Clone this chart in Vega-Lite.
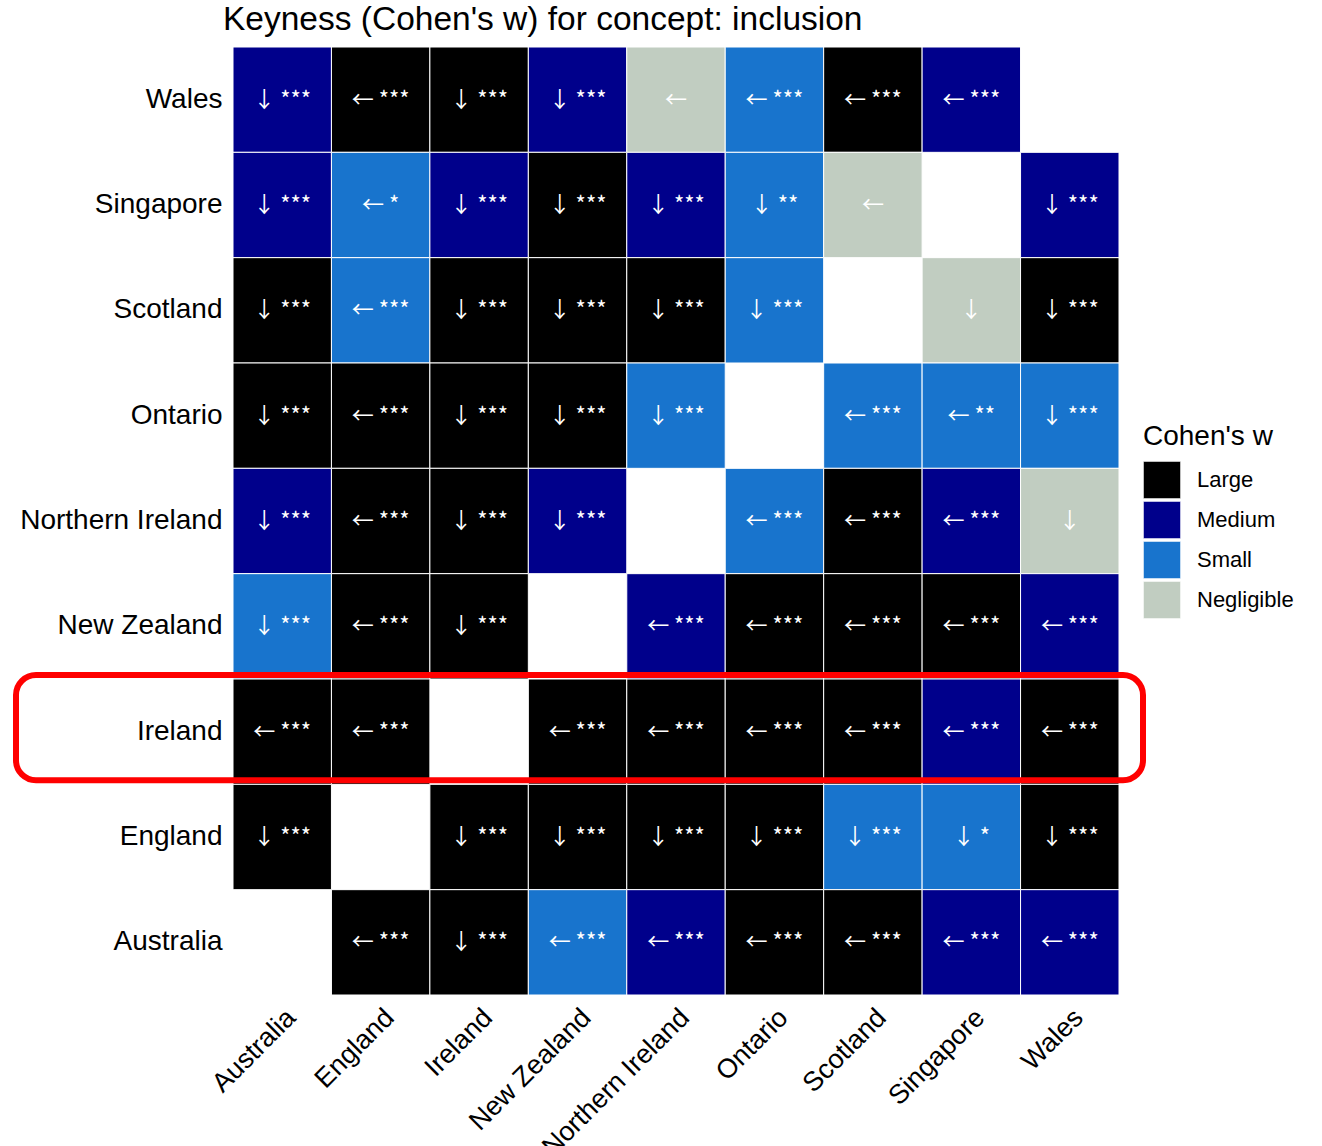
{
  "$schema": "https://vega.github.io/schema/vega-lite/v6.json",
  "width": 886,
  "height": 948,
  "autosize": {"type": "none"},
  "padding": {"left": 233, "top": 47, "right": 203, "bottom": 151},
  "background": "white",
  "title": {"text": "Keyness (Cohen's w) for concept: inclusion", "anchor": "start", "frame": "group", "dx": -10, "offset": 9, "fontSize": 33.5, "font": "Liberation Sans", "fontWeight": "normal", "color": "black"},
  "config": {"view": {"stroke": null}, "font": "Liberation Sans"},
  "datasets": {
    "cells": [
      {"row": "Wales", "col": "Australia", "size": "Medium", "label": "↓ ***"},
      {"row": "Wales", "col": "England", "size": "Large", "label": "← ***"},
      {"row": "Wales", "col": "Ireland", "size": "Large", "label": "↓ ***"},
      {"row": "Wales", "col": "New Zealand", "size": "Medium", "label": "↓ ***"},
      {"row": "Wales", "col": "Northern Ireland", "size": "Negligible", "label": "←"},
      {"row": "Wales", "col": "Ontario", "size": "Small", "label": "← ***"},
      {"row": "Wales", "col": "Scotland", "size": "Large", "label": "← ***"},
      {"row": "Wales", "col": "Singapore", "size": "Medium", "label": "← ***"},
      {"row": "Singapore", "col": "Australia", "size": "Medium", "label": "↓ ***"},
      {"row": "Singapore", "col": "England", "size": "Small", "label": "← *"},
      {"row": "Singapore", "col": "Ireland", "size": "Medium", "label": "↓ ***"},
      {"row": "Singapore", "col": "New Zealand", "size": "Large", "label": "↓ ***"},
      {"row": "Singapore", "col": "Northern Ireland", "size": "Medium", "label": "↓ ***"},
      {"row": "Singapore", "col": "Ontario", "size": "Small", "label": "↓ **"},
      {"row": "Singapore", "col": "Scotland", "size": "Negligible", "label": "←"},
      {"row": "Singapore", "col": "Wales", "size": "Medium", "label": "↓ ***"},
      {"row": "Scotland", "col": "Australia", "size": "Large", "label": "↓ ***"},
      {"row": "Scotland", "col": "England", "size": "Small", "label": "← ***"},
      {"row": "Scotland", "col": "Ireland", "size": "Large", "label": "↓ ***"},
      {"row": "Scotland", "col": "New Zealand", "size": "Large", "label": "↓ ***"},
      {"row": "Scotland", "col": "Northern Ireland", "size": "Large", "label": "↓ ***"},
      {"row": "Scotland", "col": "Ontario", "size": "Small", "label": "↓ ***"},
      {"row": "Scotland", "col": "Singapore", "size": "Negligible", "label": "↓"},
      {"row": "Scotland", "col": "Wales", "size": "Large", "label": "↓ ***"},
      {"row": "Ontario", "col": "Australia", "size": "Large", "label": "↓ ***"},
      {"row": "Ontario", "col": "England", "size": "Large", "label": "← ***"},
      {"row": "Ontario", "col": "Ireland", "size": "Large", "label": "↓ ***"},
      {"row": "Ontario", "col": "New Zealand", "size": "Large", "label": "↓ ***"},
      {"row": "Ontario", "col": "Northern Ireland", "size": "Small", "label": "↓ ***"},
      {"row": "Ontario", "col": "Scotland", "size": "Small", "label": "← ***"},
      {"row": "Ontario", "col": "Singapore", "size": "Small", "label": "← **"},
      {"row": "Ontario", "col": "Wales", "size": "Small", "label": "↓ ***"},
      {"row": "Northern Ireland", "col": "Australia", "size": "Medium", "label": "↓ ***"},
      {"row": "Northern Ireland", "col": "England", "size": "Large", "label": "← ***"},
      {"row": "Northern Ireland", "col": "Ireland", "size": "Large", "label": "↓ ***"},
      {"row": "Northern Ireland", "col": "New Zealand", "size": "Medium", "label": "↓ ***"},
      {"row": "Northern Ireland", "col": "Ontario", "size": "Small", "label": "← ***"},
      {"row": "Northern Ireland", "col": "Scotland", "size": "Large", "label": "← ***"},
      {"row": "Northern Ireland", "col": "Singapore", "size": "Medium", "label": "← ***"},
      {"row": "Northern Ireland", "col": "Wales", "size": "Negligible", "label": "↓"},
      {"row": "New Zealand", "col": "Australia", "size": "Small", "label": "↓ ***"},
      {"row": "New Zealand", "col": "England", "size": "Large", "label": "← ***"},
      {"row": "New Zealand", "col": "Ireland", "size": "Large", "label": "↓ ***"},
      {"row": "New Zealand", "col": "Northern Ireland", "size": "Medium", "label": "← ***"},
      {"row": "New Zealand", "col": "Ontario", "size": "Large", "label": "← ***"},
      {"row": "New Zealand", "col": "Scotland", "size": "Large", "label": "← ***"},
      {"row": "New Zealand", "col": "Singapore", "size": "Large", "label": "← ***"},
      {"row": "New Zealand", "col": "Wales", "size": "Medium", "label": "← ***"},
      {"row": "Ireland", "col": "Australia", "size": "Large", "label": "← ***"},
      {"row": "Ireland", "col": "England", "size": "Large", "label": "← ***"},
      {"row": "Ireland", "col": "New Zealand", "size": "Large", "label": "← ***"},
      {"row": "Ireland", "col": "Northern Ireland", "size": "Large", "label": "← ***"},
      {"row": "Ireland", "col": "Ontario", "size": "Large", "label": "← ***"},
      {"row": "Ireland", "col": "Scotland", "size": "Large", "label": "← ***"},
      {"row": "Ireland", "col": "Singapore", "size": "Medium", "label": "← ***"},
      {"row": "Ireland", "col": "Wales", "size": "Large", "label": "← ***"},
      {"row": "England", "col": "Australia", "size": "Large", "label": "↓ ***"},
      {"row": "England", "col": "Ireland", "size": "Large", "label": "↓ ***"},
      {"row": "England", "col": "New Zealand", "size": "Large", "label": "↓ ***"},
      {"row": "England", "col": "Northern Ireland", "size": "Large", "label": "↓ ***"},
      {"row": "England", "col": "Ontario", "size": "Large", "label": "↓ ***"},
      {"row": "England", "col": "Scotland", "size": "Small", "label": "↓ ***"},
      {"row": "England", "col": "Singapore", "size": "Small", "label": "↓ *"},
      {"row": "England", "col": "Wales", "size": "Large", "label": "↓ ***"},
      {"row": "Australia", "col": "England", "size": "Large", "label": "← ***"},
      {"row": "Australia", "col": "Ireland", "size": "Large", "label": "↓ ***"},
      {"row": "Australia", "col": "New Zealand", "size": "Small", "label": "← ***"},
      {"row": "Australia", "col": "Northern Ireland", "size": "Medium", "label": "← ***"},
      {"row": "Australia", "col": "Ontario", "size": "Large", "label": "← ***"},
      {"row": "Australia", "col": "Scotland", "size": "Large", "label": "← ***"},
      {"row": "Australia", "col": "Singapore", "size": "Medium", "label": "← ***"},
      {"row": "Australia", "col": "Wales", "size": "Medium", "label": "← ***"}
    ],
    "highlight": [{"row": "Ireland"}]
  },
  "layer": [
    {
      "data": {"name": "cells"},
      "mark": {"type": "rect", "stroke": "white", "strokeWidth": 1},
      "encoding": {
        "x": {"field": "col", "type": "nominal",
              "scale": {"domain": ["Australia", "England", "Ireland", "New Zealand", "Northern Ireland", "Ontario", "Scotland", "Singapore", "Wales"], "paddingInner": 0, "paddingOuter": 0},
              "axis": {"title": null, "labelAngle": -45, "labelAlign": "right", "labelBaseline": "top", "labelFontSize": 27, "labelColor": "black", "ticks": false, "domain": false, "labelPadding": 9, "labelFont": "Liberation Sans", "labelLimit": 400}},
        "y": {"field": "row", "type": "nominal",
              "scale": {"domain": ["Wales", "Singapore", "Scotland", "Ontario", "Northern Ireland", "New Zealand", "Ireland", "England", "Australia"], "paddingInner": 0, "paddingOuter": 0},
              "axis": {"title": null, "labelFontSize": 28, "labelColor": "black", "ticks": false, "domain": false, "labelPadding": 11, "labelFont": "Liberation Sans", "labelLimit": 400}},
        "color": {"field": "size", "type": "nominal",
                  "scale": {"domain": ["Large", "Medium", "Small", "Negligible"], "range": ["#000000", "#00008B", "#1874CD", "#C1CDC1"]},
                  "legend": {"title": "Cohen's w", "orient": "none", "legendX": 910, "legendY": 376, "titleFontSize": 28, "titleFontWeight": "normal", "titleColor": "black", "titleFont": "Liberation Sans", "titlePadding": 10, "labelFontSize": 22, "labelColor": "black", "labelFont": "Liberation Sans", "symbolType": "square", "symbolSize": 1369, "symbolStrokeColor": "white", "symbolStrokeWidth": 0.5, "symbolOpacity": 1, "rowPadding": 0, "labelOffset": 16}}
      }
    },
    {
      "data": {"name": "cells"},
      "mark": {"type": "text", "color": "white", "fontSize": 22, "font": "Noto Sans CJK SC", "baseline": "middle", "align": "center"},
      "encoding": {
        "x": {"field": "col", "type": "nominal"},
        "y": {"field": "row", "type": "nominal"},
        "text": {"field": "label", "type": "nominal"}
      }
    },
    {
      "data": {"name": "highlight"},
      "mark": {"type": "rect", "fill": null, "filled": false, "stroke": "#FF0000", "strokeWidth": 6, "cornerRadius": 20, "clip": false, "yOffset": -4, "y2Offset": 3},
      "encoding": {
        "y": {"field": "row", "type": "nominal"},
        "x": {"value": -217},
        "x2": {"value": 910}
      }
    }
  ]
}
